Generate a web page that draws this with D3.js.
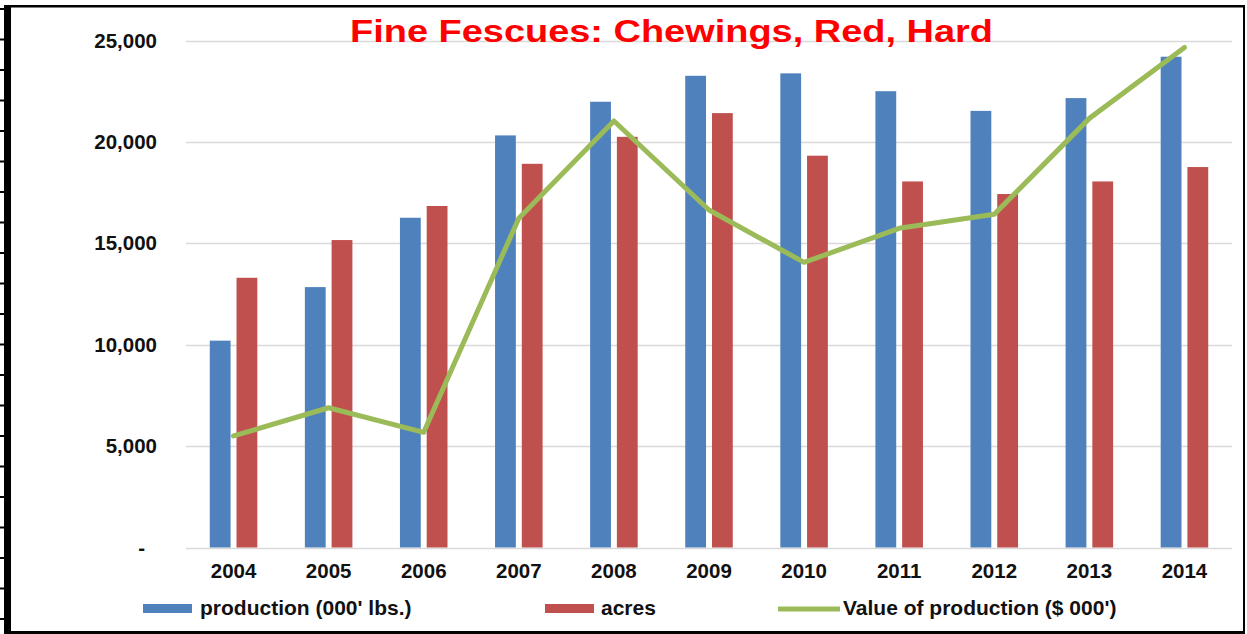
<!DOCTYPE html>
<html>
<head>
<meta charset="utf-8">
<script src="https://cdn.jsdelivr.net/npm/d3@7"></script>
<style>
  html, body { margin: 0; padding: 0; background: #fff; }
  svg { display: block; }
  text { font-family: "Liberation Sans", Arial, sans-serif; font-weight: bold; }
</style>
</head>
<body>
<svg id="chart" width="1247" height="634"></svg>
<script>
const years = ["2004","2005","2006","2007","2008","2009","2010","2011","2012","2013","2014"];
const production = [10200, 12840, 16260, 20320, 21980, 23260, 23380, 22500, 21530, 22160, 24200];
const acres = [13300, 15160, 16840, 18920, 20250, 21420, 19320, 18050, 17430, 18050, 18760];
const valueOfProduction = [5500, 6890, 5680, 16240, 21030, 16640, 14060, 15740, 16430, 21160, 24660];
const yTicks = [0, 5000, 10000, 15000, 20000, 25000];
const seriesNames = ["production (000' lbs.)", "acres", "Value of production ($ 000')"];
const titleText = "Fine Fescues: Chewings, Red, Hard";

const colors = { production: "#4F81BD", acres: "#C0504D", value: "#9BBB59" };

const svg = d3.select("#chart");
const W = 1247, H = 634;

// frame
svg.append("rect").attr("x", 0).attr("y", 0).attr("width", W).attr("height", H).attr("fill", "#fff");
const frame = svg.append("g");
frame.append("rect").attr("x", 4).attr("y", 5).attr("width", 7).attr("height", 629).attr("fill", "#000");
frame.append("rect").attr("x", 4).attr("y", 5).attr("width", 1241).attr("height", 2.5).attr("fill", "#000");
frame.append("rect").attr("x", 1243).attr("y", 5).attr("width", 2).attr("height", 629).attr("fill", "#000");
frame.append("rect").attr("x", 4).attr("y", 631).attr("width", 1241).attr("height", 3).attr("fill", "#000");
frame.selectAll("rect.tick").data(d3.range(21)).join("rect")
  .attr("class", "tick").attr("x", 0).attr("y", i => 8 + i * 30.5).attr("width", 5).attr("height", 2).attr("fill", "#000");

// scales
const x0 = d3.scaleBand().domain(years).range([186, 1232]).paddingInner(0.5).paddingOuter(0.25);
const x1 = d3.scaleBand().domain(["production", "acres"]).range([0, x0.bandwidth()]).paddingInner(0.222);
const y = d3.scaleLinear().domain([0, 25000]).range([547.5, 40.5]);

// gridlines
svg.append("g").selectAll("line").data(yTicks).join("line")
  .attr("x1", 186).attr("x2", 1232)
  .attr("y1", d => Math.round(y(d)) + 0.5).attr("y2", d => Math.round(y(d)) + 0.5)
  .attr("stroke", "#d9d9d9").attr("stroke-width", 1.5);

// y labels
svg.append("g").selectAll("text").data(yTicks).join("text")
  .attr("x", d => d === 0 ? 145 : 157)
  .attr("y", d => y(d) + 7)
  .attr("text-anchor", "end")
  .attr("font-size", 20.5)
  .attr("fill", "#111")
  .text(d => d === 0 ? "-" : d3.format(",")(d));

// bars
const groups = svg.append("g").selectAll("g").data(years).join("g")
  .attr("transform", d => `translate(${x0(d)},0)`);
groups.selectAll("rect").data((d, i) => [
  { key: "production", v: production[i] },
  { key: "acres", v: acres[i] }
]).join("rect")
  .attr("x", d => x1(d.key))
  .attr("width", x1.bandwidth())
  .attr("y", d => y(d.v))
  .attr("height", d => y(0) - y(d.v))
  .attr("fill", d => colors[d.key]);

// line
const line = d3.line()
  .x((d, i) => x0(years[i]) + x0.bandwidth() / 2)
  .y(d => y(d));
svg.append("path").datum(valueOfProduction)
  .attr("d", line)
  .attr("fill", "none")
  .attr("stroke", colors.value)
  .attr("stroke-width", 5)
  .attr("stroke-linejoin", "round")
  .attr("stroke-linecap", "round");

// x labels
svg.append("g").selectAll("text").data(years).join("text")
  .attr("x", d => x0(d) + x0.bandwidth() / 2)
  .attr("y", 578)
  .attr("text-anchor", "middle")
  .attr("font-size", 20.5)
  .attr("fill", "#111")
  .text(d => d);

// title
svg.append("text")
  .attr("x", 350).attr("y", 41.7)
  .attr("font-size", 31)
  .attr("fill", "#FF0000")
  .attr("textLength", 643)
  .attr("lengthAdjust", "spacingAndGlyphs")
  .text(titleText);

// legend
const legend = svg.append("g");
const legendItems = [
  { name: seriesNames[0], type: "rect", color: colors.production, sx: 143, tx: 200 },
  { name: seriesNames[1], type: "rect", color: colors.acres, sx: 545, tx: 601 },
  { name: seriesNames[2], type: "line", color: colors.value, sx: 778, tx: 843 }
];
legendItems.forEach(it => {
  if (it.type === "rect") {
    legend.append("rect").attr("x", it.sx).attr("y", 604).attr("width", 49).attr("height", 9).attr("fill", it.color);
  } else {
    legend.append("line").attr("x1", it.sx).attr("x2", it.sx + 62).attr("y1", 609).attr("y2", 609)
      .attr("stroke", it.color).attr("stroke-width", 5);
  }
  legend.append("text").attr("x", it.tx).attr("y", 615).attr("font-size", 21).attr("fill", "#111").text(it.name);
});
</script>
</body>
</html>
